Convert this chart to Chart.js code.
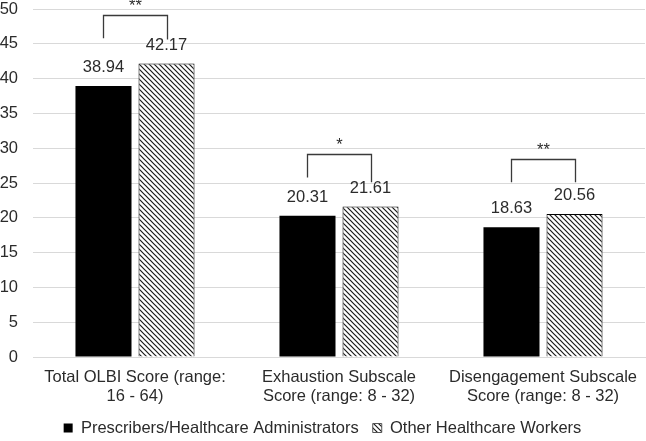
<!DOCTYPE html>
<html>
<head>
<meta charset="utf-8">
<script src="https://cdn.jsdelivr.net/npm/chart.js@4.4.0/dist/chart.umd.min.js"></script>
<style>
html,body{margin:0;padding:0;background:#fff;}
#wrap{width:646px;height:441px;position:relative;}
</style>
</head>
<body>
<div id="wrap"><canvas id="c" width="646" height="441"></canvas></div>
<script>
const categories = [
  ['Total OLBI Score (range:', '16 - 64)'],
  ['Exhaustion Subscale', 'Score (range: 8 - 32)'],
  ['Disengagement Subscale', 'Score (range: 8 - 32)']
];
const seriesNames = ['Prescribers/Healthcare Administrators', 'Other Healthcare Workers'];
const prescribers = [38.94, 20.31, 18.63];
const otherWorkers = [42.17, 21.61, 20.56];
const significance = ['**', '*', '**'];
const bracketTop = [49.1, 29.2, 28.5];
const bracketLegLeft = [45.8, 25.8, 25.1];
const bracketLegRight = [45.6, 25.1, 25.1];
const yTicks = [0, 5, 10, 15, 20, 25, 30, 35, 40, 45, 50];

const FONT = "'Liberation Sans', Arial, sans-serif";
const FS = 16.5;
const TEXT = '#2b2b2b';

// layout targets (pixels)
const TARGET = { top: 9, bottom: 357, left: 33, right: 645, legendCenter: 428 };

function makeHatch() {
  const s = 5;
  const cv = document.createElement('canvas');
  cv.width = s; cv.height = s;
  const g = cv.getContext('2d');
  g.fillStyle = '#ffffff';
  g.fillRect(0, 0, s, s);
  g.strokeStyle = '#1a1a1a';
  g.lineWidth = 1.2;
  g.beginPath();
  g.moveTo(-1, -1); g.lineTo(s + 1, s + 1);
  g.moveTo(-1, s - 1); g.lineTo(1, s + 1);
  g.moveTo(s - 1, -1); g.lineTo(s + 1, 1);
  g.stroke();
  return g.createPattern(cv, 'repeat');
}
const hatch = makeHatch();

const annotPlugin = {
  id: 'annot',
  afterDatasetsDraw(chart) {
    const ctx = chart.ctx;
    const y = chart.scales.y;
    const m0 = chart.getDatasetMeta(0), m1 = chart.getDatasetMeta(1);
    ctx.save();
    ctx.font = FS + 'px ' + FONT;
    ctx.fillStyle = TEXT;
    ctx.textAlign = 'center';
    ctx.textBaseline = 'middle';
    [m0, m1].forEach((m, di) => {
      m.data.forEach((bar, i) => {
        const v = chart.data.datasets[di].data[i];
        ctx.fillText(v.toFixed(2), bar.x, bar.y - 18.5);
      });
    });
    ctx.strokeStyle = '#3a3a3a';
    ctx.lineWidth = 1.3;
    for (let i = 0; i < categories.length; i++) {
      const xl = Math.round(m0.data[i].x) + 0.5, xr = Math.round(m1.data[i].x) + 0.5;
      const yt = Math.round(y.getPixelForValue(bracketTop[i])) + 0.5;
      ctx.beginPath();
      ctx.moveTo(xl, y.getPixelForValue(bracketLegLeft[i]));
      ctx.lineTo(xl, yt);
      ctx.lineTo(xr, yt);
      ctx.lineTo(xr, y.getPixelForValue(bracketLegRight[i]));
      ctx.stroke();
      ctx.fillText(significance[i], (xl + xr) / 2, yt - 9);
    }
    ctx.restore();
  }
};

let xAxisHeight = 57;

const chart = new Chart(document.getElementById('c'), {
  type: 'bar',
  data: {
    labels: categories,
    datasets: [
      { label: seriesNames[0], data: prescribers, backgroundColor: '#000000', borderColor: '#000000', borderWidth: 0,
        categoryPercentage: 0.618, barPercentage: 0.889 },
      { label: seriesNames[1], data: otherWorkers, backgroundColor: hatch, borderColor: '#000000', borderWidth: 1,
        categoryPercentage: 0.618, barPercentage: 0.889 }
    ]
  },
  options: {
    responsive: false,
    animation: false,
    devicePixelRatio: 1,
    layout: { padding: { top: 9, right: 1, left: 0, bottom: 0 } },
    plugins: {
      legend: {
        position: 'bottom',
        labels: {
          font: { family: FONT, size: FS },
          color: TEXT,
          boxWidth: 9, boxHeight: 9,
          padding: 14,
          generateLabels(chart) {
            return chart.data.datasets.map((d, i) => ({
              text: d.label, fillStyle: i === 0 ? '#000000' : hatch,
              strokeStyle: '#555555', lineWidth: i === 0 ? 0 : 1,
              fontColor: TEXT, datasetIndex: i, hidden: false
            }));
          }
        }
      },
      tooltip: { enabled: false }
    },
    scales: {
      x: {
        grid: { display: false, drawTicks: false },
        border: { display: true, color: '#d9d9d9', width: 1 },
        ticks: { font: { family: FONT, size: FS, lineHeight: 1.15 }, color: TEXT, padding: 11, maxRotation: 0, autoSkip: false },
        afterFit(s) { s.height = xAxisHeight; s.paddingLeft = 0; s.paddingRight = 0; }
      },
      y: {
        min: 0, max: 50,
        afterBuildTicks(s) { s.ticks = yTicks.map(v => ({ value: v })); },
        grid: { color: '#d9d9d9', lineWidth: 1, drawTicks: false },
        border: { display: false },
        ticks: { font: { family: FONT, size: FS }, color: TEXT, padding: 15 },
        afterFit(s) { s.width = TARGET.left; s.paddingTop = 0; s.paddingBottom = 0; }
      }
    }
  },
  plugins: [annotPlugin]
});

// calibrate layout so the plot area and legend land where the reference has them
for (let k = 0; k < 3; k++) {
  const pad = chart.options.layout.padding;
  const hb = chart.legend.legendHitBoxes[0];
  const lc = hb.top + hb.height / 2;
  const dl = TARGET.legendCenter - lc;
  pad.bottom -= dl;
  const ca = chart.chartArea;
  pad.top -= (ca.top - TARGET.top);
  xAxisHeight += (ca.bottom - TARGET.bottom) - dl;
  pad.right += (ca.right - TARGET.right);
  chart.update('none');
}
</script>
</body>
</html>
